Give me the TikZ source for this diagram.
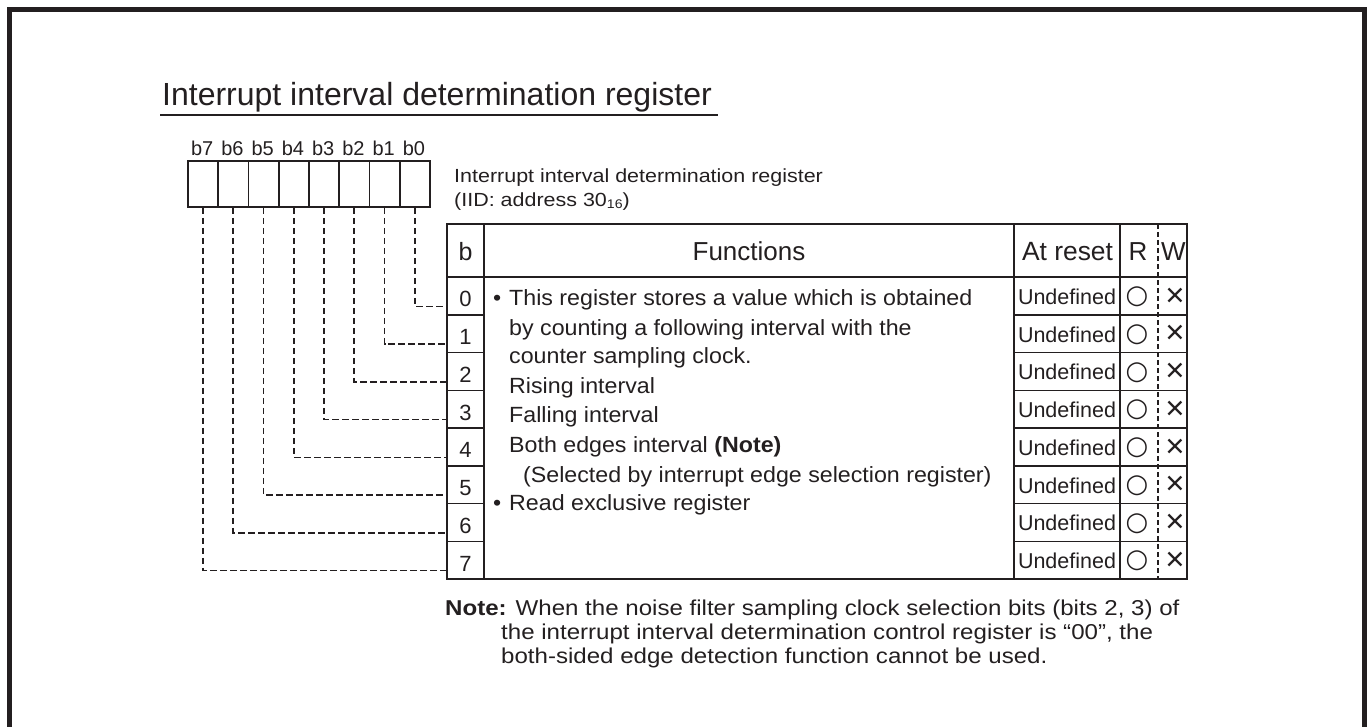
\documentclass[tikz,border=0pt]{standalone}
\usepackage{graphicx}
\usepackage{fontspec}
\setmainfont{Liberation Sans}
\newfontfamily\symfont{DejaVu Sans}
\definecolor{ink}{HTML}{231F20}
\newcommand\setfs[1]{\fontsize{#1}{#1}\selectfont}
\newcommand\ftxt[1]{\scalebox{1.055}[1]{\setfs{22}#1}}
\newcommand\ntxt[1]{\scalebox{1.12}[1]{\setfs{21.5}#1}}
\begin{document}
\begin{tikzpicture}[x=1pt,y=-1pt,
  txt/.style={inner sep=0pt, text=ink},
  bitcell/.style={draw=ink, line width=1.8pt, minimum width=30.25pt, minimum height=46pt, inner sep=0pt, anchor=north west},
  bcell/.style={draw=ink, line width=1.5pt, minimum width=37pt, minimum height=37.75pt, inner sep=0pt},
  conn/.style={draw=ink, dash pattern=on 6.5pt off 3.5pt, line width=1.6pt},
  grid/.style={draw=ink, line width=1.5pt},
  frame/.style={draw=ink, line width=2pt}]
\useasboundingbox (0,0) rectangle (1372,727);
% outer border (open at bottom)
\draw[draw=ink, line width=5pt] (9.5,727) -- (9.5,9.5) -- (1364.5,9.5) -- (1364.5,727);
% title
\node[txt, anchor=base west] (title) at (162,106) {\setfs{32}Interrupt interval determination register};
\draw[draw=ink, line width=1.5pt] (160,115) -- (718,115);
% bit boxes
\foreach \i in {0,...,7} {
  \node[bitcell] (bit\i) at ({187+30.25*(7-\i)},160) {};
  \node[txt, anchor=base] (lb\i) at ({187+30.25*(7.5-\i)},156) {\setfs{20}b\i};
}
% register name
\node[txt, anchor=base west] (rn1) at (454,183) {\scalebox{1.13}[1]{\setfs{19}Interrupt interval determination register}};
\node[txt, anchor=base west] (rn2) at (454,207) {\scalebox{1.13}[1]{\setfs{19}(IID: address 30\raisebox{-1.5pt}{\setfs{12.5}16})}};
% table grid
\foreach \i in {0,...,7} {
  \node[bcell] (r\i) at (465.5,{277+37.75*(\i+0.5)}) {};
  \node[txt, anchor=base] (d\i) at (465.5,{277+37.75*(\i+0.5)+11}) {\setfs{22}\i};
  \node[txt, anchor=base] (u\i) at (1067,{277+37.75*(\i+0.5)+8.5}) {\setfs{21.5}Undefined};
  \node[txt] (o\i) at (1137,{277+37.75*(\i+0.5)+1}) {\symfont\setfs{26}○};
  \node[txt] (x\i) at (1175,{277+37.75*(\i+0.5)+1}) {\setfs{33}×};
  \draw[conn] (bit\i.south) |- ([yshift=-10.5pt]r\i.west);
}
\foreach \k in {1,...,7} {
  \draw[grid] (1014,{277+37.75*\k}) -- (1187,{277+37.75*\k});
}
\draw[frame] (447,224) rectangle (1187,579);
\draw[frame] (447,277) -- (1187,277);
\draw[frame] (484,224) -- (484,579);
\draw[frame] (1014,224) -- (1014,579);
\draw[frame] (1120,224) -- (1120,579);
\draw[draw=ink, line width=1.4pt, dash pattern=on 5pt off 3pt] (1158,224) -- (1158,579);
% header
\node[txt, anchor=base] (hb) at (465.5,261) {\setfs{25}b};
\node[txt, anchor=base] (hf) at (749,261) {\setfs{26}Functions};
\node[txt, anchor=base] (hr) at (1067.5,261) {\setfs{26.4}At reset};
\node[txt, anchor=base] (hR) at (1138,261) {\setfs{26}R};
\node[txt, anchor=base] (hW) at (1173.5,261) {\setfs{26}W};
% functions text
\node[txt, anchor=base west] (b1) at (493,305) {\ftxt{•}};
\node[txt, anchor=base west] (f1) at (509,305) {\ftxt{This register stores a value which is obtained}};
\node[txt, anchor=base west] (f2) at (509,335) {\ftxt{by counting a following interval with the}};
\node[txt, anchor=base west] (f3) at (509,363) {\ftxt{counter sampling clock.}};
\node[txt, anchor=base west] (f4) at (509,393) {\ftxt{Rising interval}};
\node[txt, anchor=base west] (f5) at (509,422) {\ftxt{Falling interval}};
\node[txt, anchor=base west] (f6) at (509,452) {\ftxt{Both edges interval \textbf{(Note)}}};
\node[txt, anchor=base west] (f7) at (523,482) {\ftxt{(Selected by interrupt edge selection register)}};
\node[txt, anchor=base west] (b2) at (493,510) {\ftxt{•}};
\node[txt, anchor=base west] (f8) at (509,510) {\ftxt{Read exclusive register}};
% note
\node[txt, anchor=base west] (n1) at (445,615) {\ntxt{\textbf{Note:} When the noise filter sampling clock selection bits (bits 2, 3) of}};
\node[txt, anchor=base west] (n2) at (501,639) {\ntxt{the interrupt interval determination control register is “00”, the}};
\node[txt, anchor=base west] (n3) at (501,663) {\ntxt{both-sided edge detection function cannot be used.}};
\end{tikzpicture}
\end{document}
